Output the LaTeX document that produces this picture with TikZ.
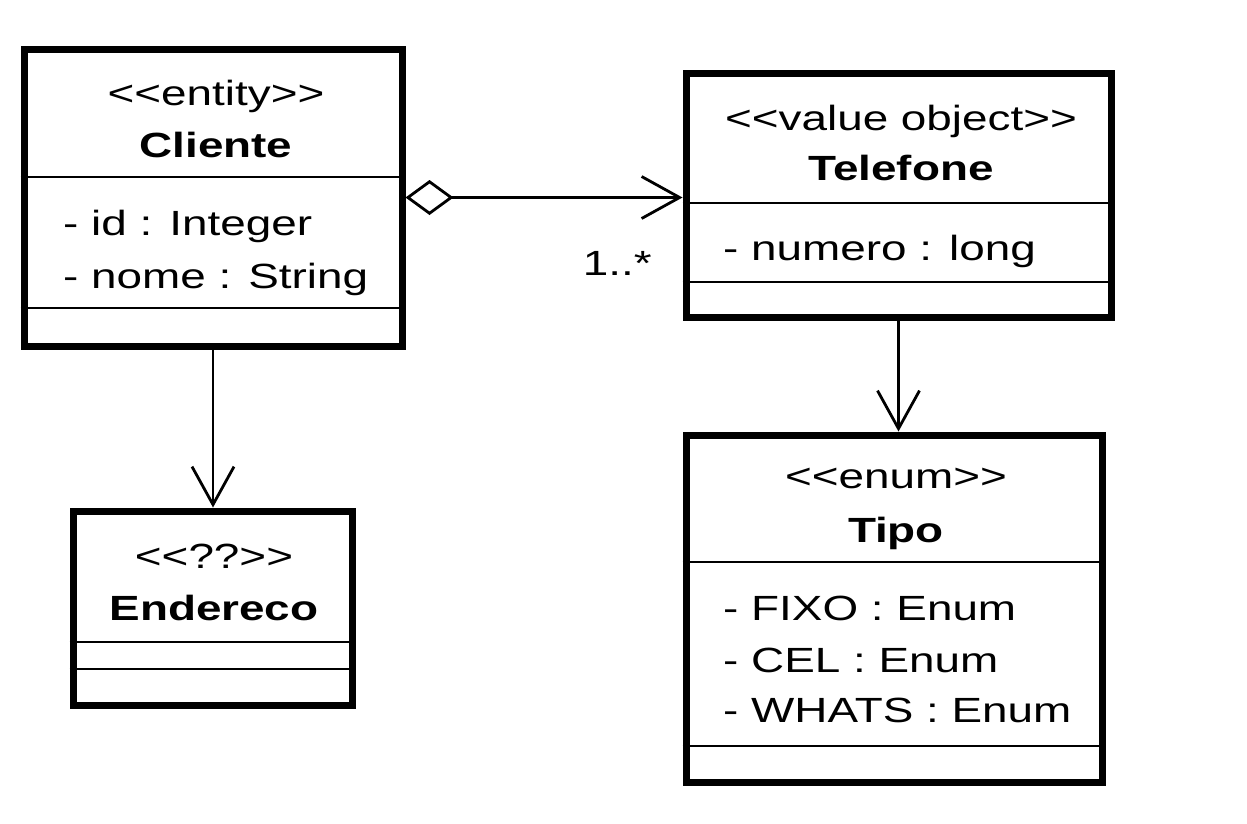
\documentclass[tikz,border=0pt]{standalone}
\usepackage{fontspec}
\newfontfamily\umlfont[FakeStretch=1.31]{Liberation Sans}
\usetikzlibrary{arrows.meta,positioning}

\begin{document}
\begin{tikzpicture}[
    x=1pt, y=-1pt,
    classbox/.style={draw, line width=7pt, inner sep=0pt},
    divider/.style={line width=2.5pt},
    stereo/.style={font=\umlfont\fontsize{35}{52}\selectfont, anchor=base, inner sep=0pt},
    classname/.style={stereo, font=\umlfont\fontsize{35}{52}\selectfont\bfseries},
    attr/.style={stereo, anchor=base west},
    arrow/.style={line width=2.8pt, -{Straight Barb[length=38pt,width=42pt]}},
]
    \useasboundingbox (0,0) rectangle (1247,823);

    % class boxes
    \node[classbox, minimum width=378, minimum height=297] (cliente) at (213,197.5) {};
    \node[classbox, minimum width=425, minimum height=244] (telefone) at (898.5,195) {};
    \node[classbox, minimum width=279, minimum height=194] (endereco) at (212.5,608) {};
    \node[classbox, minimum width=416, minimum height=347] (tipo) at (894,608.5) {};

    % compartments
    \draw[divider] (cliente.west |- 0,177) -- (cliente.east |- 0,177);
    \draw[divider] (cliente.west |- 0,308) -- (cliente.east |- 0,308);
    \draw[divider] (telefone.west |- 0,203) -- (telefone.east |- 0,203);
    \draw[divider] (telefone.west |- 0,282) -- (telefone.east |- 0,282);
    \draw[divider] (endereco.west |- 0,642) -- (endereco.east |- 0,642);
    \draw[divider] (endereco.west |- 0,669) -- (endereco.east |- 0,669);
    \draw[divider] (tipo.west |- 0,562) -- (tipo.east |- 0,562);
    \draw[divider] (tipo.west |- 0,746) -- (tipo.east |- 0,746);

    % Cliente
    \node[stereo] (cliente-st) at (216,105) {<<entity>>};
    \node[classname] (cliente-nm) at (216,157) {Cliente};
    \node[attr] (cliente-id) at (63,235) {- id : Integer};
    \node[attr] (cliente-nome) at (63,288) {- nome : String};

    % Telefone
    \node[stereo] (telefone-st) at (901,130) {<<value object>>};
    \node[classname] (telefone-nm) at (901,180) {Telefone};
    \node[attr] (telefone-num) at (723,260) {- numero : long};

    % Endereco
    \node[stereo] (endereco-st) at (214,568) {<<??>>};
    \node[classname] (endereco-nm) at (214,620) {Endereco};

    % Tipo
    \node[stereo] (tipo-st) at (896,488) {<<enum>>};
    \node[classname] (tipo-nm) at (896,542) {Tipo};
    \node[attr] (tipo-fixo) at (723,620) {- FIXO : Enum};
    \node[attr] (tipo-cel) at (723,672) {- CEL : Enum};
    \node[attr] (tipo-whats) at (723,722) {- WHATS : Enum};

    % associations
    \draw[arrow, {Diamond[open,length=48pt,width=35pt]}-{Straight Barb[length=38pt,width=42pt]}] (cliente.east) -- (telefone.west |- cliente.east);
    \node[stereo, anchor=base east] (mult) at (652,275) {1..*};
    \draw[arrow] (cliente.south) -- (cliente.south |- endereco.north);
    \draw[arrow] (telefone.south) -- (telefone.south |- tipo.north);
\end{tikzpicture}
\end{document}
